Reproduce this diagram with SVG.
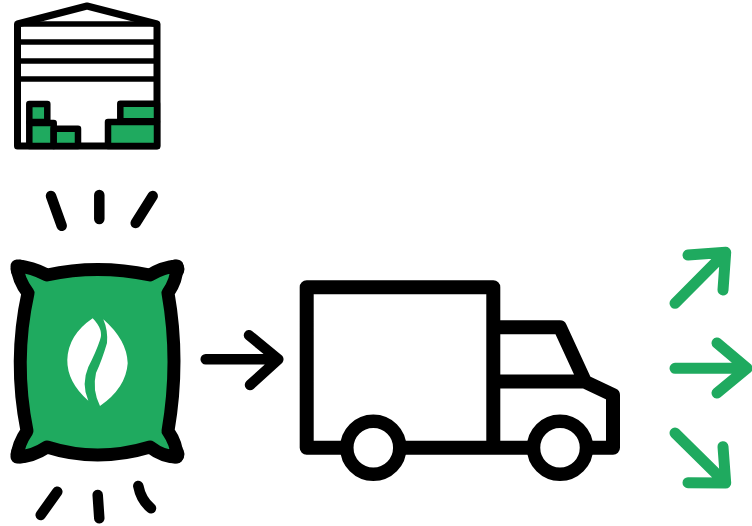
<svg xmlns="http://www.w3.org/2000/svg" width="752" height="526" viewBox="0 0 752 526">
<style>
.k{fill:none;stroke:#000;stroke-linecap:round;stroke-linejoin:round}
.w{stroke-width:7}
.l{stroke-width:5.500;stroke-linecap:butt}
.b{fill:#1faa5f;stroke:#000;stroke-width:6.500;stroke-linejoin:round}
.r{stroke-width:10.500}
.t{stroke-width:14}
.g{fill:none;stroke:#1faa5f;stroke-width:11;stroke-linecap:round;stroke-linejoin:round}
</style>
<rect width="752" height="526" fill="#fff"/>
<g id="warehouse">
<path class="k w" d="M17.500 24L87 6L157 24V146H17.500Z"/>
<path class="k l" d="M17.500 24H157M17.500 42H157M17.500 61H157M17.500 79H157"/>
<rect class="b" x="29.300" y="104" width="18" height="18"/>
<rect class="b" x="29.300" y="123" width="24.400" height="23"/>
<rect class="b" x="53.700" y="128.700" width="24.300" height="17.300"/>
<rect class="b" x="120.300" y="103.700" width="36.700" height="17.600"/>
<rect class="b" x="108" y="122" width="49" height="24"/>
</g>
<g id="rays-top">
<path class="k r" d="M51 196L61.700 225.700M99.300 195V219M152.700 196L135.700 223"/>
</g>
<g id="sack">
<circle cx="20" cy="269" r="9.500"/>
<circle cx="175" cy="269" r="9.500"/>
<circle cx="20" cy="454" r="9.500"/>
<circle cx="175" cy="454" r="9.500"/>
<path d="M47 275Q97 264 150 275Q163 267 177 266Q177 280 168 293Q180 361 168 431Q177 444 177 457Q163 457 150 447Q97 463 47 447Q32 457 17 457Q18 444 27 431Q13 361 28 293Q18 280 17 266Q32 267 47 275Z" fill="#1faa5f" stroke="#000" stroke-width="13" stroke-linejoin="round"/>
<path d="M92.700 318.300Q104 330 100 340Q96 352 88.300 367Q81 384 88.300 400.700Q67 382 67.300 360Q68 335 92.700 318.300Z" fill="#fff"/>
<path d="M103.300 319.300Q127 340 127.700 363.300Q126 388 100 406Q92 390 96 373Q102 360 107 343Q108 330 103.300 319.300Z" fill="#fff"/>
</g>
<g id="rays-bottom">
<path class="k r" d="M57.300 491.700L40.700 515M97.700 495L99.300 518.300M138.300 486Q141 500 151 508.300"/>
</g>
<g id="truck">
<path class="k t" d="M306.700 287.300H493.300V447.700H306.700ZM493.300 327.300H560L585 381.700L613 395V447.700H493.300M493.300 381.500H585"/>
<circle cx="373.300" cy="447.700" r="26.500" fill="#fff" stroke="#000" stroke-width="13.500"/>
<circle cx="560" cy="447.700" r="26.500" fill="#fff" stroke="#000" stroke-width="13.500"/>
</g>
<g id="connectors">
<path class="k" stroke-width="10.500" d="M205.700 359.300H278.300M249 335.300L278.300 359.300L250 385"/>
<path class="g" d="M675 303.300L725.700 252.300M688 255L725.700 252.300L723 290"/>
<path class="g" d="M675 368.300H747M717 343L747 368.300L717 393"/>
<path class="g" d="M675 433L725.700 483M688 482.700L725.700 483L723 446.700"/>
</g>
</svg>
